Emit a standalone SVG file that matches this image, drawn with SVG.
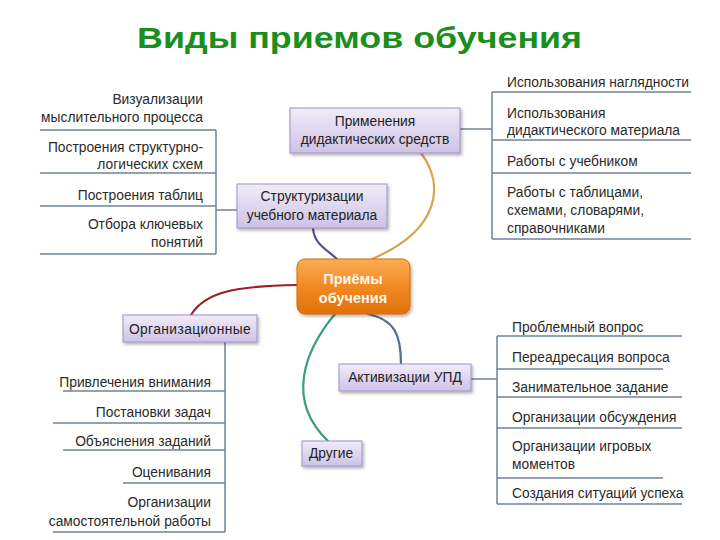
<svg xmlns="http://www.w3.org/2000/svg" width="720" height="540" viewBox="0 0 720 540">
<defs>
<linearGradient id="gNode" x1="0" y1="0" x2="0" y2="1">
<stop offset="0" stop-color="#f1ecf8"/>
<stop offset="1" stop-color="#cdc2e6"/>
</linearGradient>
<linearGradient id="gMain" x1="0" y1="0" x2="0" y2="1">
<stop offset="0" stop-color="#fbad55"/>
<stop offset="0.5" stop-color="#f28a22"/>
<stop offset="1" stop-color="#e0700a"/>
</linearGradient>
<filter id="sh" x="-10%" y="-20%" width="130%" height="160%">
<feDropShadow dx="1.5" dy="2" stdDeviation="1.5" flood-color="#000" flood-opacity="0.3"/>
</filter>
</defs>
<style>
.title{font-family:"Liberation Sans",Arial,sans-serif;font-weight:bold;font-size:29px;fill:#1a8f1d}
.node{fill:url(#gNode);stroke:#9d92c4;stroke-width:1;filter:url(#sh)}
.nt{font-family:"Liberation Sans",Arial,sans-serif;font-size:13.8px;fill:#222;text-anchor:middle}
.mt{font-family:"Liberation Sans",Arial,sans-serif;font-size:14.5px;font-weight:bold;fill:#fff7ee;text-anchor:middle}
.lt{font-family:"Liberation Sans",Arial,sans-serif;font-size:13.8px;fill:#2a2a2a}
.r{text-anchor:end}
.ln{stroke:#71839c;stroke-width:1.5;fill:none}
.cv{fill:none;stroke-width:2.2;stroke-linecap:round}
</style>
<text class="title" x="137" y="48" textLength="445" lengthAdjust="spacingAndGlyphs">Виды приемов обучения</text>

<g id="connectors">
<path class="cv" stroke="#d9a24e" d="M 421 153 C 445 185, 440 230, 372 259"/>
<path class="cv" stroke="#5b4f93" d="M 313 228 C 314 245, 328 250, 338 260"/>
<path class="cv" stroke="#9c1f24" d="M 191 315 C 205 292, 235 286, 297 285"/>
<path class="cv" stroke="#3a9f7f" d="M 335 314 C 305 350, 285 400, 328 441"/>
<path class="cv" stroke="#566c8c" d="M 368 314 C 395 320, 401 335, 401 364"/>
<!-- Структуризации list -->
<path class="ln" d="M 237 210 H 216 M 216 130 V 254 M 40 130 H 216 M 40 173 H 216 M 40 206 H 216 M 40 254 H 216"/>
<!-- Применения list -->
<path class="ln" d="M 460 129 H 492 M 492 92 V 239 M 492 92 H 691 M 492 140 H 691 M 492 173 H 691 M 492 239 H 691"/>
<!-- Организационные list -->
<path class="ln" d="M 225 342 V 532 M 63 391 H 225 M 53 423 H 225 M 63 450 H 225 M 123 483 H 225 M 53 532 H 225"/>
<!-- Активизации list -->
<path class="ln" d="M 471 379 H 497 M 497 336 V 504 M 497 336 H 682 M 497 369 H 663 M 497 397 H 682 M 497 428 H 682 M 497 478 H 663 M 497 504 H 682"/>
</g>

<g id="n-main">
<rect x="297" y="259" width="113" height="55" rx="8" fill="url(#gMain)" stroke="#d56b0c" stroke-width="1" filter="url(#sh)"/>
<text class="mt" x="353" y="284">Приёмы</text>
<text class="mt" x="353" y="303">обучения</text>
</g>

<g id="n-prim">
<rect class="node" x="290" y="108" width="170" height="45"/>
<text class="nt" x="375" y="126">Применения</text>
<text class="nt" x="375" y="144">дидактических средств</text>
</g>

<g id="n-struct">
<rect class="node" x="237" y="184" width="150" height="44"/>
<text class="nt" x="312" y="201">Структуризации</text>
<text class="nt" x="312" y="220">учебного материала</text>
</g>

<g id="n-org">
<rect class="node" x="123" y="315" width="134" height="27"/>
<text class="nt" x="190" y="334" font-size="14.5" letter-spacing="0.4">Организационные</text>
</g>

<g id="n-akt">
<rect class="node" x="339" y="364" width="132" height="27"/>
<text class="nt" x="405" y="382">Активизации УПД</text>
</g>

<g id="n-dr">
<rect class="node" x="302" y="441" width="60" height="25"/>
<text class="nt" x="331" y="458">Другие</text>
</g>

<g id="list-struct">
<text class="lt r" x="203" y="104">Визуализации</text>
<text class="lt r" x="203" y="122">мыслительного процесса</text>
<text class="lt r" x="203" y="152">Построения структурно-</text>
<text class="lt r" x="203" y="169">логических схем</text>
<text class="lt r" x="203" y="200">Построения таблиц</text>
<text class="lt r" x="203" y="229">Отбора ключевых</text>
<text class="lt r" x="203" y="247">понятий</text>
</g>

<g id="list-prim">
<text class="lt" x="507" y="87">Использования наглядности</text>
<text class="lt" x="507" y="118">Использования</text>
<text class="lt" x="507" y="135">дидактического материала</text>
<text class="lt" x="507" y="166">Работы с учебником</text>
<text class="lt" x="507" y="197">Работы с таблицами,</text>
<text class="lt" x="507" y="215">схемами, словарями,</text>
<text class="lt" x="507" y="233">справочниками</text>
</g>

<g id="list-org">
<text class="lt r" x="211" y="387">Привлечения внимания</text>
<text class="lt r" x="211" y="417">Постановки задач</text>
<text class="lt r" x="211" y="446">Объяснения заданий</text>
<text class="lt r" x="211" y="477">Оценивания</text>
<text class="lt r" x="211" y="507">Организации</text>
<text class="lt r" x="211" y="526">самостоятельной работы</text>
</g>

<g id="list-akt">
<text class="lt" x="512" y="332">Проблемный вопрос</text>
<text class="lt" x="512" y="362">Переадресация вопроса</text>
<text class="lt" x="512" y="392">Занимательное задание</text>
<text class="lt" x="512" y="422">Организации обсуждения</text>
<text class="lt" x="512" y="451">Организации игровых</text>
<text class="lt" x="512" y="469">моментов</text>
<text class="lt" x="512" y="498">Создания ситуаций успеха</text>
</g>
</svg>
